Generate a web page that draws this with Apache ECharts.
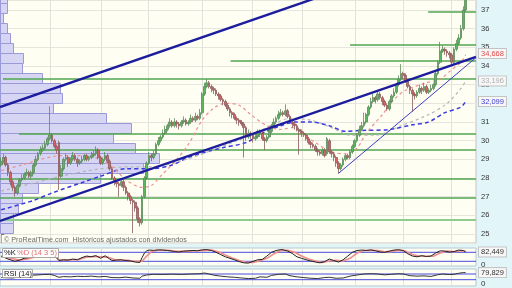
<!DOCTYPE html>
<html><head><meta charset="utf-8">
<script src="https://cdn.jsdelivr.net/npm/echarts/dist/echarts.min.js"></script>
<style>html,body{margin:0;padding:0;background:#e2f6fa}#c{width:512px;height:288px}</style>
</head><body><div id="c"></div>
<script>
// ---- price candles (daily) ----
const openP = [
28.7,28.9,29.1,28.7,28.3,27.8,27.5,27.2,27.6,27.9,
28.0,28.2,28.3,28.1,28.3,28.7,29.0,29.3,29.5,29.6,
29.8,30.1,30.3,30.0,29.7,29.9,28.1,28.5,29.0,29.1,
28.8,29.0,29.2,29.0,28.8,28.9,29.0,29.2,29.0,29.1,
29.2,29.3,29.5,29.1,28.8,29.0,29.2,28.9,28.5,28.0,
27.8,27.7,27.6,27.8,27.5,27.2,27.0,26.8,26.7,26.4,
25.8,25.6,27.0,28.0,28.8,29.2,29.1,29.3,29.8,30.0,
30.2,30.4,30.6,30.8,31.0,30.8,31.0,30.9,30.8,31.0,
31.1,30.9,31.0,31.2,31.1,31.3,31.2,31.5,32.5,32.9,
33.1,32.9,32.8,32.7,32.5,32.4,32.2,32.1,31.9,31.7,
31.5,31.4,31.2,31.1,31.0,30.9,30.7,30.2,30.4,30.3,
30.1,30.2,30.5,30.4,30.1,30.0,30.2,30.5,30.8,31.0,
31.2,31.4,31.5,31.4,31.6,31.3,31.0,30.9,30.8,30.6,
30.5,30.4,30.3,30.1,29.9,29.8,29.7,29.5,29.4,29.3,
29.5,29.3,30.0,29.4,29.3,29.1,28.8,28.5,28.7,29.0,
29.2,29.1,29.4,29.7,30.0,30.3,30.6,30.8,31.0,31.4,
31.8,32.1,32.3,32.2,32.5,32.3,32.1,31.9,31.7,32.1,
32.4,32.6,33.0,33.3,33.6,33.5,33.2,32.9,32.7,32.5,
32.4,32.6,32.8,32.7,32.9,32.6,32.7,32.8,33.0,33.6,
34.2,34.8,34.9,34.8,34.7,34.6,34.2,34.9,35.2,35.5,
36.0,37.0];
const closeP = [
28.9,29.1,28.7,28.3,27.8,27.5,27.2,27.6,27.9,28.0,
28.2,28.3,28.1,28.3,28.7,29.0,29.3,29.5,29.6,29.8,
30.1,30.3,30.0,29.7,29.5,28.1,28.5,29.0,29.1,28.8,
29.0,29.2,29.0,28.8,28.9,29.0,29.2,29.0,29.1,29.2,
29.3,29.5,29.1,28.8,29.0,29.2,28.9,28.5,28.0,27.8,
27.7,27.6,27.8,27.5,27.2,27.0,26.8,26.7,26.4,25.8,
25.6,27.0,28.0,28.8,29.2,29.1,29.3,29.8,30.0,30.2,
30.4,30.6,30.8,31.0,30.8,31.0,30.9,30.8,31.0,31.1,
30.9,31.0,31.2,31.1,31.3,31.2,31.5,32.5,32.9,33.1,
32.9,32.8,32.7,32.5,32.4,32.2,32.1,31.9,31.7,31.5,
31.4,31.2,31.1,31.0,30.9,30.7,30.2,30.4,30.3,30.1,
30.2,30.5,30.4,30.1,30.0,30.2,30.5,30.8,31.0,31.2,
31.4,31.5,31.4,31.6,31.3,31.0,30.9,30.8,30.6,30.5,
30.4,30.3,30.1,29.9,29.8,29.7,29.5,29.4,29.3,29.5,
29.2,30.1,29.4,29.3,29.1,28.8,28.5,28.7,29.0,29.2,
29.1,29.4,29.7,30.0,30.3,30.6,30.8,31.0,31.4,31.8,
32.1,32.3,32.2,32.5,32.3,32.1,31.9,31.7,32.1,32.4,
32.6,33.0,33.3,33.6,33.5,33.2,32.9,32.7,32.5,32.4,
32.6,32.8,32.7,32.9,32.6,32.7,32.8,33.0,33.6,34.2,
34.8,34.9,34.8,34.7,34.6,34.2,34.9,35.2,35.5,36.0,
37.0,37.6];
const highP = [
29.1,29.3,29.2,28.8,28.4,27.9,27.6,27.7,28.0,28.2,
28.3,28.5,28.4,28.4,28.8,29.2,29.4,29.7,29.8,30.0,
30.2,31.85,30.4,30.1,29.8,30.0,28.7,29.1,29.3,29.2,
29.1,29.4,29.3,29.1,29.0,29.2,29.3,29.3,29.2,29.4,
29.5,29.7,29.6,29.2,29.1,29.4,29.3,29.0,28.6,28.1,
27.9,27.8,27.9,27.9,27.6,27.3,27.1,26.9,26.8,26.5,
25.9,27.1,28.1,28.9,29.4,29.3,29.5,29.9,30.2,30.3,
30.6,30.8,30.9,31.2,31.1,31.2,31.1,31.0,31.1,31.3,
31.2,31.1,31.4,31.3,31.5,31.4,31.7,32.6,33.1,33.3,
33.2,33.0,32.9,32.8,32.6,32.5,32.3,32.2,32.0,31.8,
31.6,31.5,31.3,31.2,31.1,31.0,30.8,30.6,30.5,30.4,
30.4,30.6,30.6,30.5,30.2,30.3,30.6,30.9,31.2,31.3,
31.6,31.7,31.6,31.95,31.7,31.4,31.1,31.0,30.9,30.7,
30.6,30.5,30.4,30.2,30.0,29.9,29.8,29.6,29.5,29.6,
29.6,30.2,30.1,29.5,29.4,29.2,28.9,28.8,29.1,29.3,
29.3,29.5,29.8,30.1,30.4,30.8,31.0,31.5,31.5,31.9,
32.3,32.5,32.4,32.7,32.6,32.4,32.2,32.0,32.2,32.5,
32.8,33.1,33.5,34.1,33.7,33.6,33.3,33.0,32.8,32.6,
32.7,33.0,32.9,33.1,33.0,32.8,33.0,33.1,33.7,34.3,
35.3,35.1,35.0,34.9,34.8,34.7,35.0,35.4,35.7,36.2,
37.2,37.9];
const lowP = [
28.6,28.8,28.6,28.1,27.6,27.3,27.0,27.1,27.5,27.8,
27.9,28.1,28.0,27.9,28.2,28.6,28.9,29.2,29.4,29.5,
29.7,30.0,29.9,29.6,29.3,27.36,28.0,28.4,28.9,28.6,
28.7,28.9,28.9,28.6,28.7,28.8,28.9,28.9,28.9,29.0,
29.1,29.2,29.0,28.7,28.7,28.9,28.8,28.4,27.9,27.6,
27.5,27.0,27.5,27.3,27.1,26.8,26.6,25.05,26.2,25.6,
25.4,25.5,26.9,27.9,28.7,28.9,29.0,29.2,29.7,29.9,
30.1,30.3,30.5,30.7,30.7,30.7,30.7,30.6,30.7,30.9,
30.8,30.8,30.9,31.0,31.0,31.1,31.1,31.4,32.4,32.8,
32.8,32.6,32.5,32.4,32.2,32.1,31.9,31.8,31.6,31.3,
31.2,31.1,30.9,30.8,30.8,29.1,30.0,30.1,30.1,29.9,
30.0,30.1,30.2,30.0,29.5,29.9,30.1,30.4,30.7,30.9,
31.1,31.3,31.3,31.3,31.2,30.9,30.7,30.6,30.5,29.25,
30.2,30.2,30.0,29.8,29.6,29.6,29.4,29.2,29.2,29.2,
29.1,29.2,29.3,29.1,28.9,28.6,28.25,28.4,28.6,28.9,
29.0,29.0,29.3,29.6,29.9,30.2,30.5,30.7,30.9,31.3,
31.7,32.0,32.0,32.1,32.2,31.9,31.8,31.6,31.6,32.0,
32.3,32.5,32.9,33.2,33.3,33.1,32.8,32.5,31.55,32.2,
32.3,32.5,32.5,32.6,32.5,32.5,32.6,32.7,32.9,33.5,
34.1,34.7,34.6,34.5,34.4,34.1,34.1,34.8,35.1,35.4,
35.9,36.9];
const slots = 206; // trading-day slots on the time axis (last ones empty)

// ---- moving averages [day index, price] ----
const maShort = [[0,28.4],[9,28.7],[17,29.0],[26,29.2],[35,29.2],[43,29.0],[49,28.5],[54,27.9],[61,27.5],[65,27.6],[69,28.1],[76,29.0],[81,29.8],[87,31.1],[92,31.75],[97,32.0],[103,31.9],[108,31.4],[115,30.8],[121,30.6],[126,30.7],[130,30.4],[136,29.9],[143,29.4],[149,29.3],[154,29.6],[158,30.4],[165,31.4],[170,32.2],[175,32.7],[184,33.1],[190,33.3],[195,33.8],[199,34.2],[201,34.6]];
const maMid = [[0,27.3],[13,27.7],[26,28.1],[43,28.5],[56,28.6],[65,28.6],[80,29.0],[100,29.9],[110,30.4],[118,30.9],[125,31.2],[134,31.1],[143,30.7],[151,30.3],[162,30.3],[173,30.8],[185,31.4],[193,32.0],[199,32.8],[201,33.2]];
const maLong = [[0,26.3],[14,26.8],[22,27.2],[36,27.8],[43,28.1],[54,28.5],[65,28.5],[74,28.7],[81,29.1],[95,29.6],[106,29.9],[113,30.4],[121,30.8],[127,31.0],[134,31.0],[142,30.8],[149,30.5],[156,30.55],[168,30.6],[178,30.85],[185,31.0],[192,31.5],[199,31.8],[201,32.1]];
const lastValues = {maShort: 34.668, maMid: 33.196, maLong: 32.099, stochK: 82.449, rsi: 79.829};

// ---- trend lines [day index, price] ----
const trendUpper = [[-0.5,31.80],[205.5,40.6]];
const trendLower = [[-0.5,25.70],[205.5,34.49]];
const trendThin = [[146,28.25],[205.5,34.45]];

// ---- support / resistance levels ----
const levelPrice = [33.30,30.36,34.27,35.13,36.89,29.50,27.95,26.93,25.75];
const levelStart = [0.8,7.7,99.3,151,184.8,-0.5,-0.5,-0.5,-0.5];

// ---- volume by price: band edges (price) and volumes ----
const vpEdges = [37.89,37.36,36.82,36.29,35.75,35.22,34.68,34.15,33.61,33.07,32.54,32.00,31.47,30.93,30.40,29.86,29.32,28.79,28.25,27.72,27.18,26.65,26.11,25.58,25.04];
const vpVol = [7,7,3,7,10,13,23,22,42,60,62,53,106,131,113,135,159,143,100,38,22,18,13,13];

// ---- month boundaries (day index) ----
const monthBreaks = [21.1,43.2,63.6,86.9,108.6,130.2,153.1,173.9,194.7];

// ---- stochastic %K / %D and RSI [day index, value] ----
const stochK = [[0,55],[3,35],[6,20],[8,28],[10,40],[12,45],[15,60],[18,75],[21,82],[23,60],[25,25],[27,30],[29,28],[31,35],[33,30],[35,45],[37,55],[39,50],[41,58],[43,40],[45,57],[47,35],[48,25],[50,28],[52,30],[54,25],[56,22],[58,15],[60,12],[61,45],[62,75],[63,90],[64,95],[66,93],[68,96],[70,95],[72,92],[74,88],[75,85],[77,82],[79,88],[81,90],[83,92],[85,90],[87,96],[89,98],[91,92],[93,80],[95,65],[97,50],[99,40],[101,30],[103,18],[105,10],[107,8],[109,20],[111,30],[113,32],[115,55],[117,80],[119,92],[121,98],[122,97],[124,88],[126,72],[128,50],[130,40],[132,30],[134,22],[136,15],[138,10],[140,18],[142,35],[144,25],[146,15],[148,30],[150,55],[152,80],[154,92],[156,95],[158,92],[160,96],[162,90],[164,82],[166,80],[168,88],[170,95],[172,97],[174,92],[176,70],[178,55],[180,50],[182,58],[184,52],[186,55],[188,75],[190,90],[192,88],[194,82],[196,85],[198,95],[200,92],[201,82.4]];
const stochD = [[0,50],[4,40],[8,28],[12,38],[16,55],[20,72],[23,68],[25,30],[28,28],[31,30],[34,33],[37,48],[40,52],[43,50],[46,48],[49,32],[52,28],[55,26],[58,20],[61,20],[63,55],[65,85],[68,94],[72,94],[76,86],[80,86],[84,90],[88,93],[91,95],[94,84],[97,62],[100,42],[103,26],[106,14],[109,12],[112,24],[115,40],[118,70],[121,92],[124,93],[127,80],[130,55],[133,35],[136,22],[139,12],[142,22],[145,26],[148,22],[151,40],[154,75],[157,92],[160,94],[163,92],[166,84],[169,86],[172,94],[175,88],[178,65],[181,54],[184,54],[187,54],[190,75],[193,88],[196,84],[199,90],[201,88]];
const rsi = [[0,45],[5,42],[10,55],[14,62],[18,66],[21,68],[23,60],[25,47],[27,52],[30,50],[33,54],[36,52],[39,55],[42,50],[45,53],[48,45],[51,44],[54,48],[57,42],[60,40],[61,55],[63,63],[66,68],[70,67],[74,69],[78,67],[82,70],[86,72],[88,77],[90,70],[92,62],[95,55],[98,50],[101,47],[104,42],[107,38],[110,40],[112,50],[115,47],[117,60],[120,68],[123,70],[125,58],[128,50],[131,45],[134,40],[137,38],[140,45],[142,47],[145,40],[148,42],[151,55],[154,63],[157,70],[160,72],[163,70],[166,64],[169,68],[172,72],[174,70],[177,58],[180,55],[183,57],[186,53],[189,65],[191,70],[194,66],[196,68],[198,75],[200,80],[201,79.8]];
const stochLevels = [80,20];
const rsiLevels = [70,30];

// ================= chart =================
const chart = echarts.init(document.getElementById('c'), null, {renderer:'canvas'});
const FONT = 'Liberation Sans';
const xMax = slots - 0.5;
const cats = Array.from({length:slots}, (_, i) => String(i));
const candles = openP.map((o, i) => [o, closeP[i], lowP[i], highP[i]]);

function vlines(xi, yi, yRef){
  return {type:'custom', xAxisIndex:xi, yAxisIndex:yi, z:0, silent:true,
    data: monthBreaks.map(v => [v, yRef]),
    renderItem:(p, api) => {
      const cs = p.coordSys;
      const x = Math.round(api.coord([api.value(0), api.value(1)])[0]) + 0.5;
      return {type:'line', shape:{x1:x, y1:cs.y, x2:x, y2:cs.y + cs.height}, style:{stroke:'#e2e2da', lineWidth:1}};
    }};
}
function valueTag(v, txt, color){
  return {symbol:'none', silent:true, lineStyle:{color:'rgba(0,0,0,0)', width:0},
    data:[{yAxis:v}],
    label:{show:true, position:'end', distance:3, formatter:txt, color:color, fontSize:7.5, fontFamily:FONT,
      backgroundColor:'#f7f7f7', borderColor:'#c4c4c4', borderWidth:1, padding:[1,2,0,2]}};
}
function zeroTag(){
  return {symbol:'none', silent:true, lineStyle:{color:'rgba(0,0,0,0)', width:0},
    data:[{yAxis:0}], label:{show:true, position:'end', distance:5, formatter:'0', color:'#333', fontSize:8, fontFamily:FONT}};
}

const series = [];
series.push(vlines(1, 0, 30), vlines(3, 1, 50), vlines(4, 2, 50));
series.push({type:'custom', xAxisIndex:2, yAxisIndex:0, z:1, silent:true,
  data: vpVol.map((v, i) => [v, vpEdges[i], vpEdges[i+1]]),
  renderItem:(p, api) => {
    const a = api.coord([0, api.value(1)]);
    const b = api.coord([api.value(0), api.value(2)]);
    return {type:'rect', shape:{x:a[0]+0.5, y:Math.round(a[1])+0.5, width:b[0]-a[0], height:Math.round(b[1])-Math.round(a[1])},
      style:{fill:'#d6d6f4', stroke:'#9a9ad9', lineWidth:1}};
  }});
levelPrice.forEach((lv, i) => {
  const light = (i === levelPrice.length - 1);
  series.push({type:'line', xAxisIndex:1, yAxisIndex:0, z:2, silent:true, symbol:'none',
    data:[[levelStart[i], lv],[xMax, lv]],
    lineStyle:{color: light ? '#8fcc8f' : '#4fa64f', width: light ? 2 : 1.5}});
});
series.push({type:'line', xAxisIndex:1, yAxisIndex:0, z:3, silent:true, symbol:'none', smooth:0.3, data:maLong,
  lineStyle:{color:'#3a3ae0', width:1.5, type:[4,3]}, markLine: valueTag(lastValues.maLong, '32,099', '#3a3ad0')});
series.push({type:'line', xAxisIndex:1, yAxisIndex:0, z:3, silent:true, symbol:'none', smooth:0.3, data:maMid,
  lineStyle:{color:'#b4b4b4', width:1.2, type:[3,3]}, markLine: valueTag(lastValues.maMid, '33,196', '#b0b0b0')});
series.push({type:'line', xAxisIndex:1, yAxisIndex:0, z:3, silent:true, symbol:'none', smooth:0.3, data:maShort,
  lineStyle:{color:'#ec9090', width:1.2, type:[3,3]}, markLine: valueTag(lastValues.maShort, '34,668', '#e04a4a')});
series.push({type:'candlestick', xAxisIndex:0, yAxisIndex:0, z:4, silent:true, data:candles, barWidth:2.2,
  itemStyle:{color:'#5cb65c', color0:'#d46464', borderColor:'#5a8c5a', borderColor0:'#8c5c5c', borderWidth:0.8}});
series.push({type:'line', xAxisIndex:1, yAxisIndex:0, z:5, silent:true, symbol:'none', data:trendUpper, lineStyle:{color:'#1c1c9e', width:2.4}});
series.push({type:'line', xAxisIndex:1, yAxisIndex:0, z:5, silent:true, symbol:'none', data:trendLower, lineStyle:{color:'#1c1c9e', width:2.4}});
series.push({type:'line', xAxisIndex:1, yAxisIndex:0, z:5, silent:true, symbol:'none', data:trendThin, lineStyle:{color:'#3c3cc4', width:1}});
stochLevels.forEach(l => series.push({type:'line', xAxisIndex:3, yAxisIndex:1, z:2, silent:true, symbol:'none',
  data:[[-0.5, l],[xMax, l]], lineStyle:{color:'#4b4be0', width:1}}));
series.push({type:'line', xAxisIndex:3, yAxisIndex:1, z:3, silent:true, symbol:'none', data:stochD,
  lineStyle:{color:'#f08c8c', width:1.6}});
series.push({type:'line', xAxisIndex:3, yAxisIndex:1, z:4, silent:true, symbol:'none', data:stochK,
  lineStyle:{color:'#222', width:1}, markLine: valueTag(lastValues.stochK, '82,449', '#333')});
series.push({type:'line', xAxisIndex:3, yAxisIndex:1, z:4, silent:true, symbol:'none', data:[], markLine: zeroTag()});
rsiLevels.forEach(l => series.push({type:'line', xAxisIndex:4, yAxisIndex:2, z:2, silent:true, symbol:'none',
  data:[[-0.5, l],[xMax, l]], lineStyle:{color:'#4b4be0', width:1}}));
series.push({type:'line', xAxisIndex:4, yAxisIndex:2, z:4, silent:true, symbol:'none', data:rsi,
  lineStyle:{color:'#333', width:1}, markLine: valueTag(lastValues.rsi, '79,829', '#333')});
series.push({type:'line', xAxisIndex:4, yAxisIndex:2, z:4, silent:true, symbol:'none', data:[], markLine: zeroTag()});

const option = {
  animation:false,
  backgroundColor:'#e2f6fa',
  grid:[
    {left:0, top:0, width:476, height:243, show:true, backgroundColor:'#fefef3', borderColor:'#c4c4c4', borderWidth:1},
    {left:0, top:248, width:476, height:18, show:true, backgroundColor:'#fefef3', borderColor:'#b4c8d0', borderWidth:1},
    {left:0, top:269, width:476, height:17, show:true, backgroundColor:'#fefef3', borderColor:'#b4c8d0', borderWidth:1}
  ],
  xAxis:[
    {type:'category', gridIndex:0, data:cats, show:false, boundaryGap:true},
    {type:'value', gridIndex:0, min:-0.5, max:xMax, show:false},
    {type:'value', gridIndex:0, min:0, max:476, show:false},
    {type:'value', gridIndex:1, min:-0.5, max:xMax, show:false},
    {type:'value', gridIndex:2, min:-0.5, max:xMax, show:false}
  ],
  yAxis:[
    {type:'value', gridIndex:0, position:'right', min:24.52, max:37.536, splitNumber:13,
      axisLine:{show:true, lineStyle:{color:'#a8b0b4'}},
      axisTick:{show:true, length:3, lineStyle:{color:'#777'}},
      axisLabel:{show:true, color:'#333', fontSize:7.5, fontFamily:FONT, margin:5,
        showMinLabel:false, showMaxLabel:false,
        formatter: v => (Math.abs(v - Math.round(v)) < 1e-6 ? String(Math.round(v)) : '')},
      splitLine:{show:true, lineStyle:{color:'#e6e6de', width:1}}},
    {type:'value', gridIndex:1, min:-11.3, max:108.7, show:false},
    {type:'value', gridIndex:2, min:-14.2, max:105.1, show:false}
  ],
  series: series,
  graphic:[
    {type:'text', z:100, silent:true, style:{x:4, y:240, text:'© ProRealTime.com  Históricos ajustados con dividendos',
      fill:'#6a6a6a', font:'7.2px "Liberation Sans"', verticalAlign:'middle'}},
    {type:'rect', z:100, silent:true, shape:{x:2.5, y:248.5, width:56, height:9}, style:{fill:'#ffffff', stroke:'#a8a8a8', lineWidth:1}},
    {type:'text', z:101, silent:true, style:{x:4, y:253.2, text:'%K', fill:'#111', font:'7.5px "Liberation Sans"', verticalAlign:'middle'}},
    {type:'text', z:101, silent:true, style:{x:17, y:253.2, text:'%D (14 3 5)', fill:'#e07070', font:'7.5px "Liberation Sans"', verticalAlign:'middle'}},
    {type:'rect', z:100, silent:true, shape:{x:2.5, y:269.5, width:30, height:8}, style:{fill:'#ffffff', stroke:'#a8a8a8', lineWidth:1}},
    {type:'text', z:101, silent:true, style:{x:4, y:273.8, text:'RSI (14)', fill:'#111', font:'7.5px "Liberation Sans"', verticalAlign:'middle'}}
  ]
};
chart.setOption(option);
</script></body></html>
